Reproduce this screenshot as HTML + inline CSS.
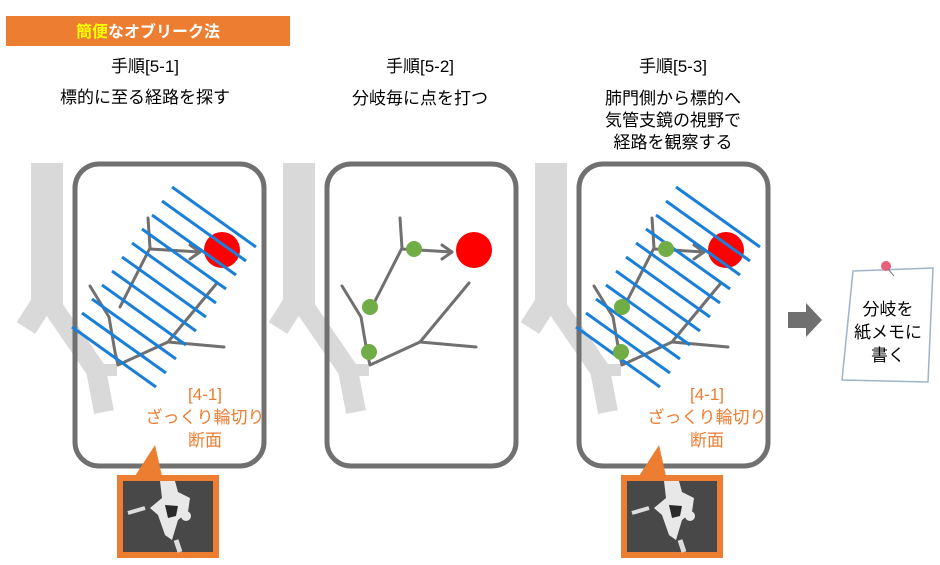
<!DOCTYPE html>
<html><head><meta charset="utf-8"><style>
body{margin:0;background:#fff;}
svg{display:block;font-family:"Liberation Sans","Noto Sans CJK JP",sans-serif;}
</style></head><body>
<svg width="940" height="565" viewBox="0 0 940 565" xmlns="http://www.w3.org/2000/svg">
<defs>
<g id="trachea" fill="none" stroke="#d9d9d9" stroke-linecap="butt">
  <line x1="299" y1="163" x2="299" y2="312" stroke-width="32"/>
  <line x1="292" y1="306" x2="278" y2="328" stroke-width="22"/>
  <polyline points="304,306 348,370 356,412" stroke-width="20" stroke-linejoin="round"/>
  <line x1="345" y1="370" x2="369" y2="370" stroke-width="12"/>
</g>
<g id="tree" fill="none" stroke="#707070" stroke-width="3" stroke-linecap="round" stroke-linejoin="round">
  <polyline points="400,218 402,248 372,307"/>
  <polyline points="342,286 361,317 367,352 370,365 420,342 469,283"/>
  <line x1="420" y1="342" x2="476" y2="347"/>
  <line x1="402" y1="249" x2="452" y2="252"/>
  <polyline points="442,245 452,252 442,259"/>
</g>
<g id="blue" stroke="#1a7fd8" stroke-width="3">
  <line x1="172" y1="187" x2="256" y2="247"/>
  <line x1="162" y1="201" x2="246" y2="261"/>
  <line x1="152" y1="215" x2="236" y2="275"/>
  <line x1="142" y1="229" x2="226" y2="289"/>
  <line x1="132" y1="243" x2="216" y2="303"/>
  <line x1="122" y1="257" x2="206" y2="317"/>
  <line x1="112" y1="271" x2="196" y2="331"/>
  <line x1="102" y1="285" x2="186" y2="345"/>
  <line x1="92" y1="299" x2="176" y2="359"/>
  <line x1="82" y1="313" x2="166" y2="373"/>
  <line x1="72" y1="327" x2="156" y2="387"/>
</g>
<g id="ct">
  <rect x="117" y="475" width="102" height="83" fill="#ed7d31"/>
  <rect x="123" y="481" width="90" height="71" fill="#484848"/>
  <path d="M160,481 L175,481 178,492 190,498 188,512 178,520 172,540 165,535 158,515 150,508 162,498Z" fill="#e8e8e8"/>
  <path d="M165,505 L178,506 176,516 168,518Z" fill="#2a2a2a"/>
  <circle cx="186" cy="516" r="5" fill="#e8e8e8"/>
  <line x1="128" y1="513" x2="145" y2="508" stroke="#ddd" stroke-width="4"/>
  <line x1="176" y1="540" x2="180" y2="552" stroke="#ddd" stroke-width="5"/>
  <polygon points="155,445 135,476 162,476" fill="#ed7d31"/>
</g>
</defs>

<rect x="6" y="16" width="284" height="30" fill="#ed7d31"/>
<text x="148" y="37" font-size="16" font-weight="bold" fill="#fff" text-anchor="middle"><tspan fill="#ffff00">簡便</tspan>なオブリーク法</text>

<g font-size="17" fill="#000" text-anchor="middle">
<text x="145" y="72">手順[5-1]</text>
<text x="145" y="103">標的に至る経路を探す</text>
<text x="420" y="72">手順[5-2]</text>
<text x="420" y="104">分岐毎に点を打つ</text>
<text x="673" y="72">手順[5-3]</text>
<text x="673" y="104">肺門側から標的へ</text>
<text x="673" y="126">気管支鏡の視野で</text>
<text x="673" y="148">経路を観察する</text>
</g>

<!-- panel 1 -->
<use href="#trachea" transform="translate(-252,0)"/>
<rect x="75" y="164" width="189" height="302" rx="24" fill="none" stroke="#707070" stroke-width="5"/>
<use href="#tree" transform="translate(-252,0)"/>
<circle cx="222" cy="250" r="18" fill="#ff0000"/>
<use href="#blue"/>
<g font-size="17" fill="#ed7d31" text-anchor="middle">
<text x="205" y="400">[4-1]</text>
<text x="205" y="423">ざっくり輪切り</text>
<text x="205" y="446">断面</text>
</g>
<use href="#ct"/>

<!-- panel 2 -->
<use href="#trachea"/>
<rect x="327" y="164" width="189" height="302" rx="24" fill="none" stroke="#707070" stroke-width="5"/>
<use href="#tree"/>
<circle cx="474" cy="250" r="18" fill="#ff0000"/>
<g fill="#70ad47"><circle cx="414" cy="249" r="8"/><circle cx="370" cy="307" r="8"/><circle cx="369" cy="352" r="8"/></g>

<!-- panel 3 -->
<use href="#trachea" transform="translate(252,0)"/>
<rect x="579" y="164" width="189" height="302" rx="24" fill="none" stroke="#707070" stroke-width="5"/>
<use href="#tree" transform="translate(252,0)"/>
<circle cx="726" cy="250" r="18" fill="#ff0000"/>
<use href="#blue" transform="translate(504,0)"/>
<g fill="#70ad47"><circle cx="666" cy="249" r="8"/><circle cx="622" cy="307" r="8"/><circle cx="621" cy="352" r="8"/></g>
<g font-size="17" fill="#ed7d31" text-anchor="middle">
<text x="707" y="400">[4-1]</text>
<text x="707" y="423">ざっくり輪切り</text>
<text x="707" y="446">断面</text>
</g>
<use href="#ct" transform="translate(504,0)"/>

<!-- arrow -->
<polygon points="788,312 806,312 806,303 822,320 806,337 806,328 788,328" fill="#707070"/>

<!-- note -->
<polygon points="853,271 933,268 928,382 842,380" fill="#fff" stroke="#9fb4c8" stroke-width="1.5"/>
<circle cx="886" cy="266" r="5" fill="#e8607a"/>
<line x1="888" y1="269" x2="894" y2="276" stroke="#777" stroke-width="1"/>
<g font-size="17" fill="#000" text-anchor="middle">
<text x="888" y="315">分岐を</text>
<text x="888" y="338">紙メモに</text>
<text x="888" y="361">書く</text>
</g>
</svg>
</body></html>
